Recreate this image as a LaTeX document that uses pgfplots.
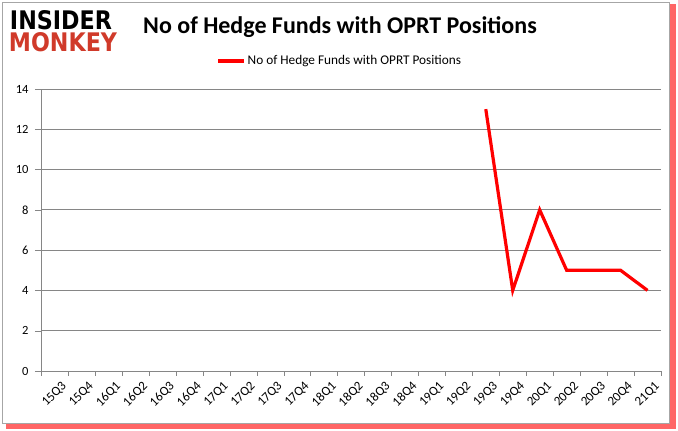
\documentclass[border=0pt]{standalone}
\usepackage{pgfplots}
\pgfplotsset{compat=1.18}
\usepackage{graphicx}
\usepackage{fontspec}
\setmainfont{Carlito}
\newfontfamily\logofont{DejaVu Sans}
\definecolor{gridgray}{RGB}{134,134,134}
\definecolor{monkeyred}{RGB}{208,58,42}
\definecolor{linered}{RGB}{255,0,0}
\begin{document}
\begin{tikzpicture}
% frame with red shadow
\useasboundingbox (0pt,0pt) rectangle (678pt,431pt);
\fill[red!60] (6pt,2pt) rectangle (676pt,427pt);
\fill[white, draw=gray!70] (2pt,8pt) rectangle (669pt,429pt);
% logo and title
\node[inner sep=0] at (61pt,411pt) {\resizebox{102pt}{19pt}{\logofont\bfseries INSIDER}};
\node[inner sep=0] at (63pt,389pt) {\resizebox{108pt}{19pt}{\logofont\bfseries\color{monkeyred}MONKEY}};
\node[inner sep=0, font=\fontsize{24}{28}\selectfont\bfseries] at (340pt,404pt) {No of Hedge Funds with OPRT Positions};
\begin{axis}[
    at={(41pt,60pt)}, anchor=south west,
    scale only axis, width=620pt, height=282pt,
    xmin=-0.5, xmax=22.5, ymin=0, ymax=14,
    axis x line*=bottom, axis y line*=left,
    axis line style={draw=gridgray, -},
    ytick={0,2,...,14},
    ymajorgrids, grid style={gridgray, line width=0.8pt},
    xtick={0,...,22},
    xticklabels={15Q3,15Q4,16Q1,16Q2,16Q3,16Q4,17Q1,17Q2,17Q3,17Q4,18Q1,18Q2,18Q3,18Q4,19Q1,19Q2,19Q3,19Q4,20Q1,20Q2,20Q3,20Q4,21Q1},
    minor xtick={-0.5,0.5,...,22.5},
    tick align=outside,
    major x tick style={draw=none},
    minor tick length=5pt, major tick length=6pt,
    tick style={gridgray},
    x tick label style={rotate=45, anchor=north east, font=\fontsize{13}{15}\selectfont, inner sep=1pt, yshift=-6pt, xshift=3pt},
    y tick label style={font=\fontsize{12.5}{14}\selectfont, xshift=-3pt},
    /pgf/number format/assume math mode=true,
    legend style={at={(0.482,1)}, anchor=center, yshift=28pt, draw=none, fill=none,
        font=\fontsize{13.3}{15}\selectfont},
    legend image code/.code={\draw[#1] (0pt,0pt) -- (26pt,0pt);},
]
\addplot[linered, line width=3.2pt, line join=miter] coordinates {
    (16,13) (17,4) (18,8) (19,5) (20,5) (21,5) (22,4)
};
\addlegendentry{No of Hedge Funds with OPRT Positions}
\end{axis}
\end{tikzpicture}
\end{document}
